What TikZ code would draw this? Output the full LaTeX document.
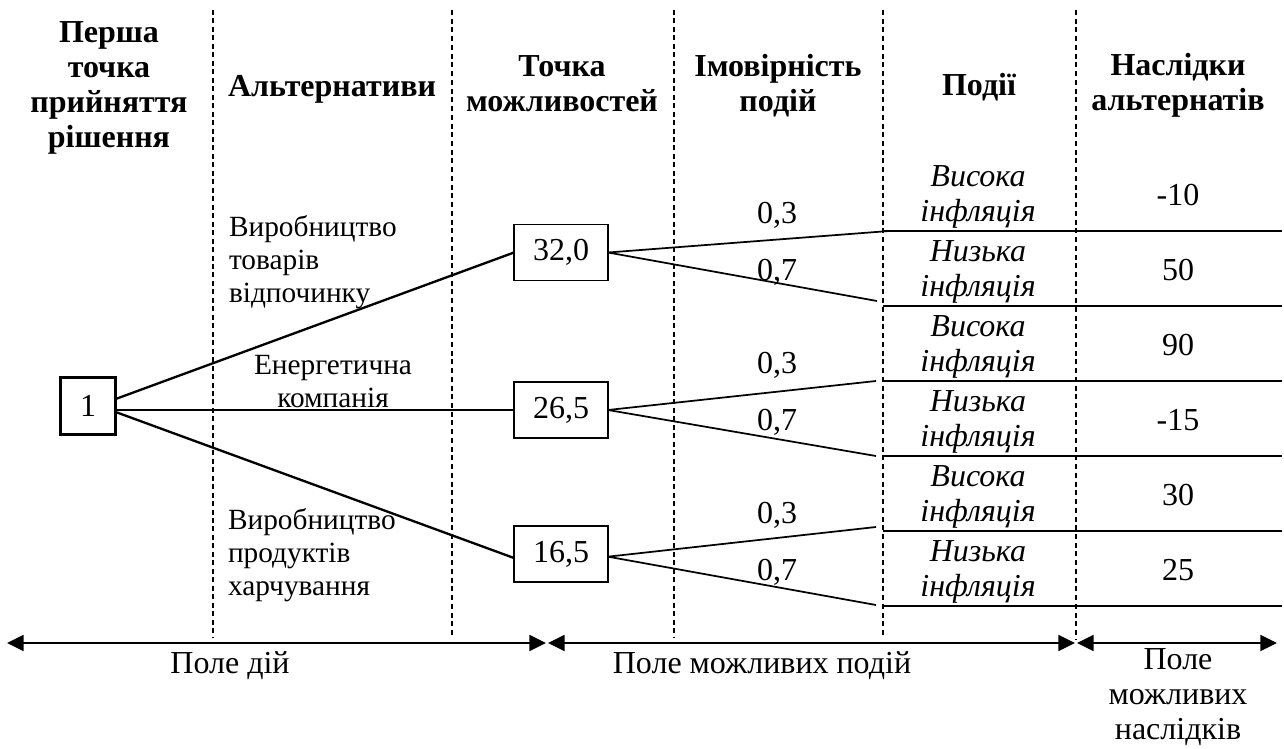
\documentclass[tikz,border=0pt]{standalone}
\usepackage{fontspec}
\setmainfont{Liberation Serif}
\usetikzlibrary{arrows.meta,calc}
\begin{document}
\begin{tikzpicture}[x=0.75pt,y=-0.75pt,
  every node/.style={inner sep=0pt, outer sep=0pt},
  hdr/.style={font=\fontsize{24}{26.25}\selectfont\bfseries, align=center, anchor=base},
  alt/.style={font=\fontsize{22}{24.4}\selectfont, anchor=base},
  num/.style={font=\fontsize{24}{26.25}\selectfont, anchor=base},
  ev/.style={font=\fontsize{24}{26.25}\selectfont\itshape, align=center, anchor=base},
  valbox/.style={draw, line width=1pt, minimum width=70.5pt, minimum height=42pt,
                 font=\fontsize{24}{26.25}\selectfont},
  rootbox/.style={draw, line width=2.4pt, minimum width=41.5pt, minimum height=43pt,
                  font=\fontsize{24}{26.25}\selectfont},
  sep thick/.style={line width=1.9pt, dash pattern=on 3.75pt off 2.6pt},
  sep thin/.style={line width=1.2pt, dash pattern=on 3.75pt off 2.8pt},
  branch/.style={line width=1.75pt},
  sub/.style={line width=1.3pt},
  rule/.style={line width=1.5pt},
  span/.style={line width=1.3pt, {Triangle[length=12.5pt,width=12pt]}-{Triangle[length=12.5pt,width=12pt]}},
]
\useasboundingbox (0,0) rectangle (1284,749);

% column separators
\draw[sep thick] (213,10) -- (213,638);
\draw[sep thin]  (452,10) -- (452,638);
\draw[sep thick] (674,10) -- (674,638);
\draw[sep thin]  (883,10) -- (883,638);
\draw[sep thin]  (1076,10) -- (1076,640);

% column headings (multi-line nodes sit on the baseline of their last line)
\node[hdr] (h1) at (109,147) {Перша\\точка\\прийняття\\рішення};
\node[hdr] (h2) at (332,97) {Альтернативи};
\node[hdr] (h3) at (562,111) {Точка\\можливостей};
\node[hdr] (h4) at (778,111) {Імовірність\\подій};
\node[hdr] (h5) at (979,95) {Події};
\node[hdr] (h6) at (1178,110) {Наслідки\\альтернатів};

% decision node and chance nodes
\node[rootbox] (b1) at (88,406) {1};
\node[valbox] (b32)  at (561,252.5) {32,0};
\node[valbox] (b265) at (561,410) {26,5};
\node[valbox] (b165) at (561,554) {16,5};

% alternatives
\draw[branch] ([yshift=5.25pt]b1.east) -- (b32.west);
\draw[branch] ([yshift=-3pt]b1.east) -- (b265.west);
\draw[branch] ([yshift=-4.5pt]b1.east) -- ([yshift=-3pt]b165.west);

\node[alt, anchor=base west, align=left] (a1) at (229,302) {Виробництво\\товарів\\відпочинку};
\node[alt, align=center] (a2) at (333,407) {Енергетична\\компанія};
\node[alt, anchor=base west, align=left] (a3) at (228,595) {Виробництво\\продуктів\\харчування};

% event branches
\coordinate (e1) at (889,231);
\coordinate (e2) at (877,301);
\coordinate (e3) at (876,381);
\coordinate (e4) at (876,456);
\coordinate (e5) at (876,527);
\coordinate (e6) at (876,605);
\draw[sub] (b32.east) -- (e1);
\draw[sub] (b32.east) -- (e2);
\draw[sub] (b265.east) -- (e3);
\draw[sub] (b265.east) -- (e4);
\draw[sub] ([yshift=-2pt]b165.east) -- (e5);
\draw[sub] ([yshift=-2pt]b165.east) -- (e6);

% probabilities
\node[num] (p1) at (777,223) {0,3};
\node[num] (p2) at (777,280) {0,7};
\node[num] (p3) at (777,373) {0,3};
\node[num] (p4) at (777,430) {0,7};
\node[num] (p5) at (777,523) {0,3};
\node[num] (p6) at (777,580) {0,7};

% events and outcomes
\foreach \L/\ev/\val in {231/Висока/-10, 306/Низька/50, 381/Висока/90,
                         456/Низька/-15, 531/Висока/30, 606/Низька/25}{
  \draw[rule] (883,\L) -- (1282,\L);
  \node[ev] (ev\L) at (978,\L-9.3) {\ev\\інфляція};
  \node[num] (v\L) at (1178,\L-26) {\val};
}

% fields
\coordinate (f0) at (7,643);
\coordinate (f1) at (546,643);
\coordinate (f2) at (548,643);
\coordinate (f3) at (1075,643);
\coordinate (f4) at (1077,643);
\coordinate (f5) at (1277,643);
\draw[span] (f0) -- (f1);
\draw[span] (f2) -- (f3);
\draw[span] (f4) -- (f5);
\node[num] (l1) at (230,673) {Поле дій};
\node[num] (l2) at (762,673) {Поле можливих подій};
\node[num, align=center] (l3) at (1178,739) {Поле\\можливих\\наслідків};
\end{tikzpicture}
\end{document}
